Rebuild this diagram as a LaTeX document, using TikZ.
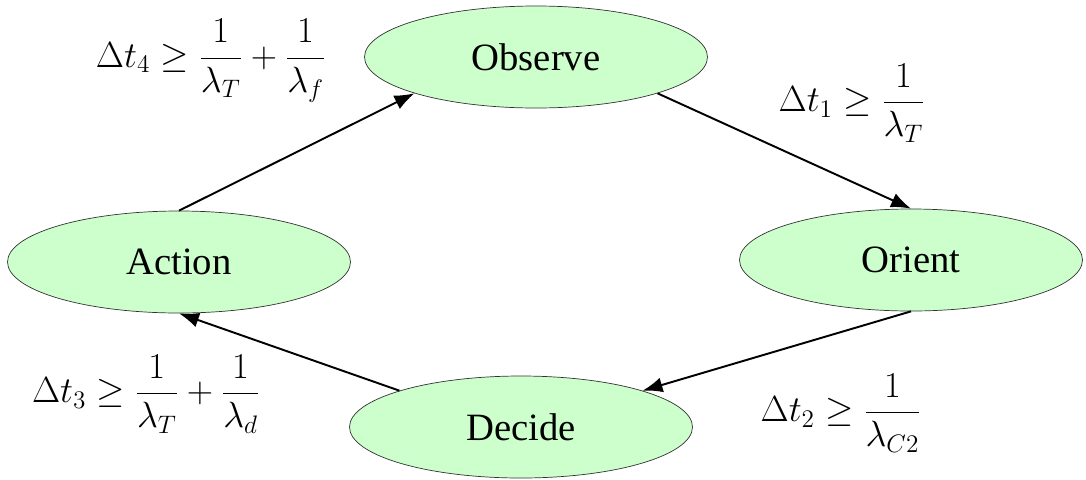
\documentclass[tikz,border=0pt]{standalone}
\usepackage{amsmath}
\usepackage{fontspec}
\setmainfont{Liberation Serif}
\usetikzlibrary{shapes.geometric,arrows.meta}

\begin{document}
\begin{tikzpicture}[every node/.style={black,font=\fontsize{22}{26}\selectfont},
	phase/.style={ellipse,draw=black!80,thin,fill=green!20,minimum width=6.86cm,minimum height=2.04cm,inner sep=0pt},
	flow/.style={-{Latex[length=4mm,width=3mm]},line width=1.1pt}]
	\useasboundingbox (0,0) rectangle (21.72,-9.58);

	\node[phase] (obs) at (10.72,-1.14) {Observe};
	\node[phase] (ori) at (18.22,-5.2) {Orient};
	\node[phase] (dec) at (10.42,-8.54) {Decide};
	\node[phase] (act) at (3.58,-5.24) {Action};

	\draw[flow] (act.north) -- (obs.south west);
	\draw[flow] (obs.south east) -- (ori.north);
	\draw[flow] (ori.south) -- (dec.north east);
	\draw[flow] (dec.north west) -- (act.south);

	\node (t4) at (4.22,-1.22) {$\Delta t_4 \geq \dfrac{1}{\lambda_T} + \dfrac{1}{\lambda_f}$};
	\node (t1) at (17.04,-2.06) {$\Delta t_1 \geq \dfrac{1}{\lambda_T}$};
	\node (t2) at (16.82,-8.26) {$\Delta t_2 \geq \dfrac{1}{\lambda_{C2}}$};
	\node (t3) at (2.92,-7.88) {$\Delta t_3 \geq \dfrac{1}{\lambda_T} + \dfrac{1}{\lambda_d}$};
\end{tikzpicture}
\end{document}
